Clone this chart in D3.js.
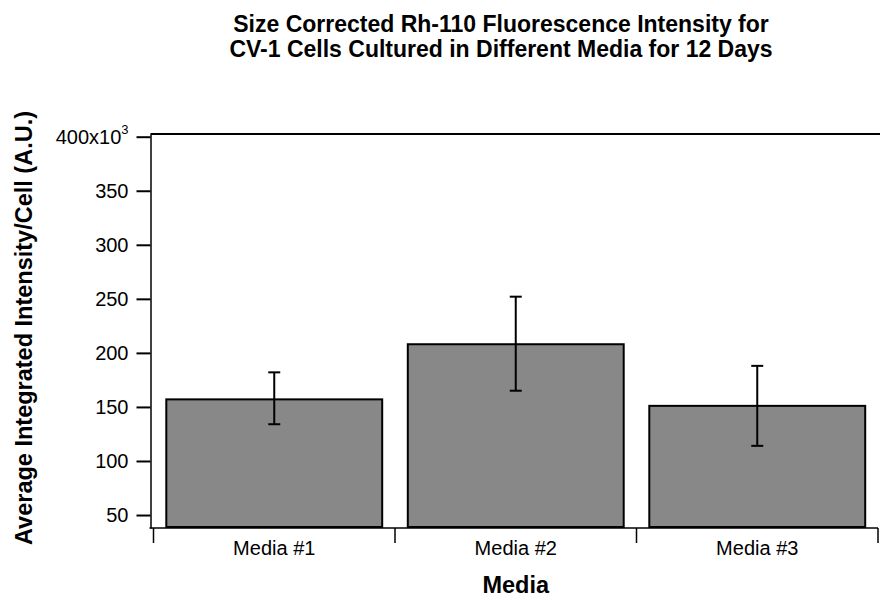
<!DOCTYPE html>
<html>
<head>
<meta charset="utf-8">
<script src="https://cdn.jsdelivr.net/npm/d3@7"></script>
<style>
  html, body { margin: 0; padding: 0; background: #fff; }
  svg { display: block; }
  text { font-family: "Liberation Sans", Arial, Helvetica, sans-serif; fill: #000; }
</style>
</head>
<body>
<svg id="chart" width="880" height="599"></svg>
<script>
// ---- data ----
const categories = ["Media #1", "Media #2", "Media #3"];
const meanValues = [157, 208, 151];          // x10^3 A.U.
const errorUpper = [182, 252, 188];
const errorLower = [134, 165, 114];
const yTicks = [50, 100, 150, 200, 250, 300, 350, 400];
const titleLines = [
  "Size Corrected Rh-110 Fluorescence Intensity for",
  "CV-1 Cells Cultured in Different Media for 12 Days"
];
const xTitle = "Media";
const yTitle = "Average Integrated Intensity/Cell (A.U.)";

// ---- layout ----
const svg = d3.select("#chart");
const plotLeft = 150.5, plotRight = 878, plotTop = 134, plotBottom = 528;

const y = d3.scaleLinear().domain([38, 402.5]).range([plotBottom, plotTop]);
const x = d3.scaleBand().domain(categories)
  .range([153.5, plotRight]).paddingInner(0.106).paddingOuter(0.053);

// top frame line
svg.append("line")
  .attr("x1", plotLeft).attr("x2", 880)
  .attr("y1", plotTop).attr("y2", plotTop)
  .attr("stroke", "#000").attr("stroke-width", 2);

// bars
svg.append("g").selectAll("rect").data(categories).join("rect")
  .attr("x", d => x(d))
  .attr("y", (d, i) => y(meanValues[i]))
  .attr("width", x.bandwidth())
  .attr("height", (d, i) => y.range()[0] - 1 - y(meanValues[i]))
  .attr("fill", "#888888")
  .attr("stroke", "#000")
  .attr("stroke-width", 2);

// error bars
const eg = svg.append("g").attr("stroke", "#000").attr("stroke-width", 2);
categories.forEach((c, i) => {
  const cx = x(c) + x.bandwidth() / 2;
  eg.append("line").attr("x1", cx).attr("x2", cx)
    .attr("y1", y(errorUpper[i])).attr("y2", y(errorLower[i]));
  [errorUpper[i], errorLower[i]].forEach(v => {
    eg.append("line").attr("x1", cx - 6).attr("x2", cx + 6)
      .attr("y1", y(v)).attr("y2", y(v));
  });
});

// y axis
const yAxis = d3.axisLeft(y).tickValues(yTicks).tickSize(14).tickSizeOuter(0).tickPadding(8)
  .tickFormat(d => d === 400 ? "" : d3.format("d")(d));
const yg = svg.append("g").attr("transform", `translate(${plotLeft},0)`).call(yAxis);
yg.select(".domain").attr("stroke", "#000").attr("stroke-width", 1.5);
yg.selectAll(".tick line").attr("stroke", "#000").attr("stroke-width", 2);
yg.selectAll(".tick text").attr("font-size", 20)
  .attr("font-family", '"Liberation Sans", Arial, sans-serif').attr("fill", "#000");
yg.selectAll(".tick").filter(d => d === 400).select("text")
  .each(function () {
    const t = d3.select(this);
    t.append("tspan").text("400x10");
    t.append("tspan").text("3").attr("font-size", 13).attr("dy", "-0.75em");
  });

// x axis
svg.append("line")
  .attr("x1", plotLeft - 1).attr("x2", plotRight)
  .attr("y1", plotBottom).attr("y2", plotBottom)
  .attr("stroke", "#000").attr("stroke-width", 1.5);
const boundaries = d3.range(categories.length + 1).map(i => x.range()[0] + i * x.step());
svg.append("g").selectAll("line").data(boundaries).join("line")
  .attr("x1", d => d).attr("x2", d => d)
  .attr("y1", plotBottom).attr("y2", plotBottom + 15)
  .attr("stroke", "#000").attr("stroke-width", 1.5);
svg.append("g").selectAll("text").data(categories).join("text")
  .attr("x", d => x(d) + x.bandwidth() / 2)
  .attr("y", 555)
  .attr("text-anchor", "middle")
  .attr("font-size", 20)
  .text(d => d);

// titles
svg.append("g").selectAll("text").data(titleLines).join("text")
  .attr("x", 501)
  .attr("y", (d, i) => 31.5 + i * 25)
  .attr("text-anchor", "middle")
  .attr("font-size", 23)
  .attr("font-weight", "bold")
  .text(d => d);

svg.append("text")
  .attr("x", (x.range()[0] + x.range()[1]) / 2)
  .attr("y", 593)
  .attr("text-anchor", "middle")
  .attr("font-size", 23.5)
  .attr("font-weight", "bold")
  .text(xTitle);

svg.append("text")
  .attr("transform", "translate(32,328) rotate(-90)")
  .attr("text-anchor", "middle")
  .attr("font-size", 23.5)
  .attr("font-weight", "bold")
  .text(yTitle);
</script>
</body>
</html>
